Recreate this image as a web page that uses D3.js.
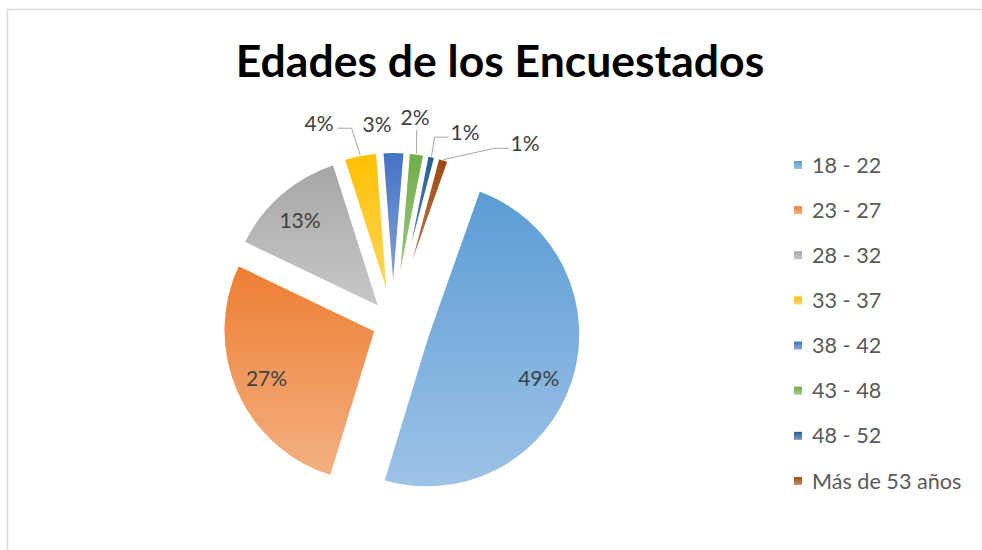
<!DOCTYPE html>
<html>
<head>
<meta charset="utf-8">
<script src="https://cdn.jsdelivr.net/npm/d3@7"></script>
<style>
  html, body { margin: 0; padding: 0; background: #fff; }
  svg { display: block; }
</style>
</head>
<body>
<svg id="chart" width="982" height="550"></svg>
<script>
// ---- data ----
const title = "Edades de los Encuestados";
const categories = ["18 - 22", "23 - 27", "28 - 32", "33 - 37", "38 - 42", "43 - 48", "48 - 52", "Más de 53 años"];
const values = [49.1, 27.3, 12.9, 3.7, 2.5, 1.8, 1.0, 1.3];
const colors = ["#5B9BD5", "#ED7D31", "#A5A5A5", "#FFC000", "#4472C4", "#70AD47", "#255E91", "#9E480E"];

// ---- layout ----
const W = 982, H = 550;
const center = { x: 393, y: 323 };
const radius = 154;
const startDeg = 19.5;
const explode = [36, 18, 18, 18, 18, 18, 18, 18];
// inside label angular nudge (deg)
const insideNudge = { 0: 3.5, 1: 0, 2: -1.5 };
// outside label placement (polar around pie centre) and leader style
const outsideLabels = {
  3: { angle: 339.7, dist: 213, leader: "fromLeft" },
  4: { angle: 355.4, dist: 198.6, leader: "none" },
  5: { angle: 6.1, dist: 207, leader: "below" },
  6: { angle: 20.7, dist: 204, leader: "fromRight" },
  7: { angle: 36.3, dist: 223, leader: "fromRight" }
};

const svg = d3.select("#chart");
const defs = svg.append("defs");
const rad = d => d * Math.PI / 180;

// frame
svg.append("path")
  .attr("d", `M7.5,${H} L7.5,9.5 L${W},9.5`)
  .attr("fill", "none").attr("stroke", "#D9D9D9").attr("stroke-width", 1.5);

// title
svg.append("text")
  .attr("x", 500).attr("y", 77)
  .attr("text-anchor", "middle")
  .attr("font-family", "Lato, 'Open Sans', sans-serif")
  .attr("font-weight", 700)
  .attr("font-size", 44.5)
  .attr("fill", "#000")
  .text(title);

// gradients
colors.forEach((c, i) => {
  const g = defs.append("linearGradient")
    .attr("id", "grad" + i)
    .attr("x1", 0).attr("y1", 0).attr("x2", 0).attr("y2", 1);
  g.append("stop").attr("offset", "0%").attr("stop-color", c);
  g.append("stop").attr("offset", "100%").attr("stop-color", d3.interpolateRgb(c, "#ffffff")(0.4));
});

const pie = d3.pie().sort(null).value(d => d)
  .startAngle(rad(startDeg)).endAngle(rad(startDeg + 360));
const arcs = pie(values);
const total = d3.sum(values);
const arc = d3.arc().innerRadius(0).outerRadius(radius);

const pieG = svg.append("g").attr("transform", `translate(${center.x},${center.y})`);

function offsetOf(d, i) {
  const m = (d.startAngle + d.endAngle) / 2;
  return [explode[i] * Math.sin(m), -explode[i] * Math.cos(m)];
}

pieG.selectAll("path.slice")
  .data(arcs)
  .join("path")
  .attr("class", "slice")
  .attr("transform", (d, i) => { const o = offsetOf(d, i); return `translate(${o[0]},${o[1]})`; })
  .attr("d", arc)
  .attr("fill", (d, i) => `url(#grad${i})`)
  .attr("stroke", "#fff")
  .attr("stroke-width", 4)
  .attr("stroke-linejoin", "miter");

const fontLab = "Lato, 'Open Sans', sans-serif";
const pct = d => Math.round(d.value / total * 100) + "%";

// inside labels
arcs.forEach((d, i) => {
  if (outsideLabels[i]) return;
  const m = (d.startAngle + d.endAngle) / 2 + rad(insideNudge[i] || 0);
  const o = offsetOf(d, i);
  const rr = radius * 0.78;
  pieG.append("text")
    .attr("x", o[0] + rr * Math.sin(m))
    .attr("y", o[1] - rr * Math.cos(m))
    .attr("dy", "0.35em")
    .attr("text-anchor", "middle")
    .attr("font-family", fontLab)
    .attr("font-size", 21)
    .attr("fill", "#404040")
    .text(pct(d));
});

// outside labels + leaders
arcs.forEach((d, i) => {
  const L = outsideLabels[i];
  if (!L) return;
  const lx = L.dist * Math.sin(rad(L.angle));
  const ly = -L.dist * Math.cos(rad(L.angle));
  const t = pieG.append("text")
    .attr("x", lx).attr("y", ly)
    .attr("dy", "0.35em")
    .attr("text-anchor", "middle")
    .attr("font-family", fontLab)
    .attr("font-size", 21)
    .attr("fill", "#404040")
    .text(pct(d));
  const w = t.node().getComputedTextLength();
  const m = (d.startAngle + d.endAngle) / 2;
  const o = offsetOf(d, i);
  const sx = o[0] + (radius - 1) * Math.sin(m);
  const sy = o[1] - (radius - 1) * Math.cos(m);
  let pts = null;
  if (L.leader === "fromLeft") {
    const x0 = lx + w / 2 + 4, y0 = ly + 5;
    pts = [[x0, y0], [x0 + 14, y0], [sx, sy]];
  } else if (L.leader === "fromRight") {
    const x0 = lx - w / 2 - 2, y0 = ly + 5;
    pts = [[x0, y0], [x0 - 14, y0], [sx, sy]];
  } else if (L.leader === "below") {
    pts = [[sx, ly + 13], [sx, sy]];
  }
  if (pts) {
    pieG.insert("path", "text")
      .attr("d", d3.line()(pts))
      .attr("fill", "none")
      .attr("stroke", "#A6A6A6")
      .attr("stroke-width", 1);
  }
});

// legend
const legendY = d3.scalePoint().domain(categories).range([165, 481]);
const leg = svg.append("g");
const items = leg.selectAll("g").data(categories).join("g")
  .attr("transform", d => `translate(794,${legendY(d)})`);
items.append("rect")
  .attr("x", 0).attr("y", -4).attr("width", 8).attr("height", 8)
  .attr("fill", (d, i) => `url(#grad${i})`);
items.append("text")
  .attr("x", 18).attr("y", 0).attr("dy", "0.35em")
  .attr("font-family", fontLab)
  .attr("font-size", 21.6)
  .attr("fill", "#595959")
  .text(d => d);
</script>
</body>
</html>
